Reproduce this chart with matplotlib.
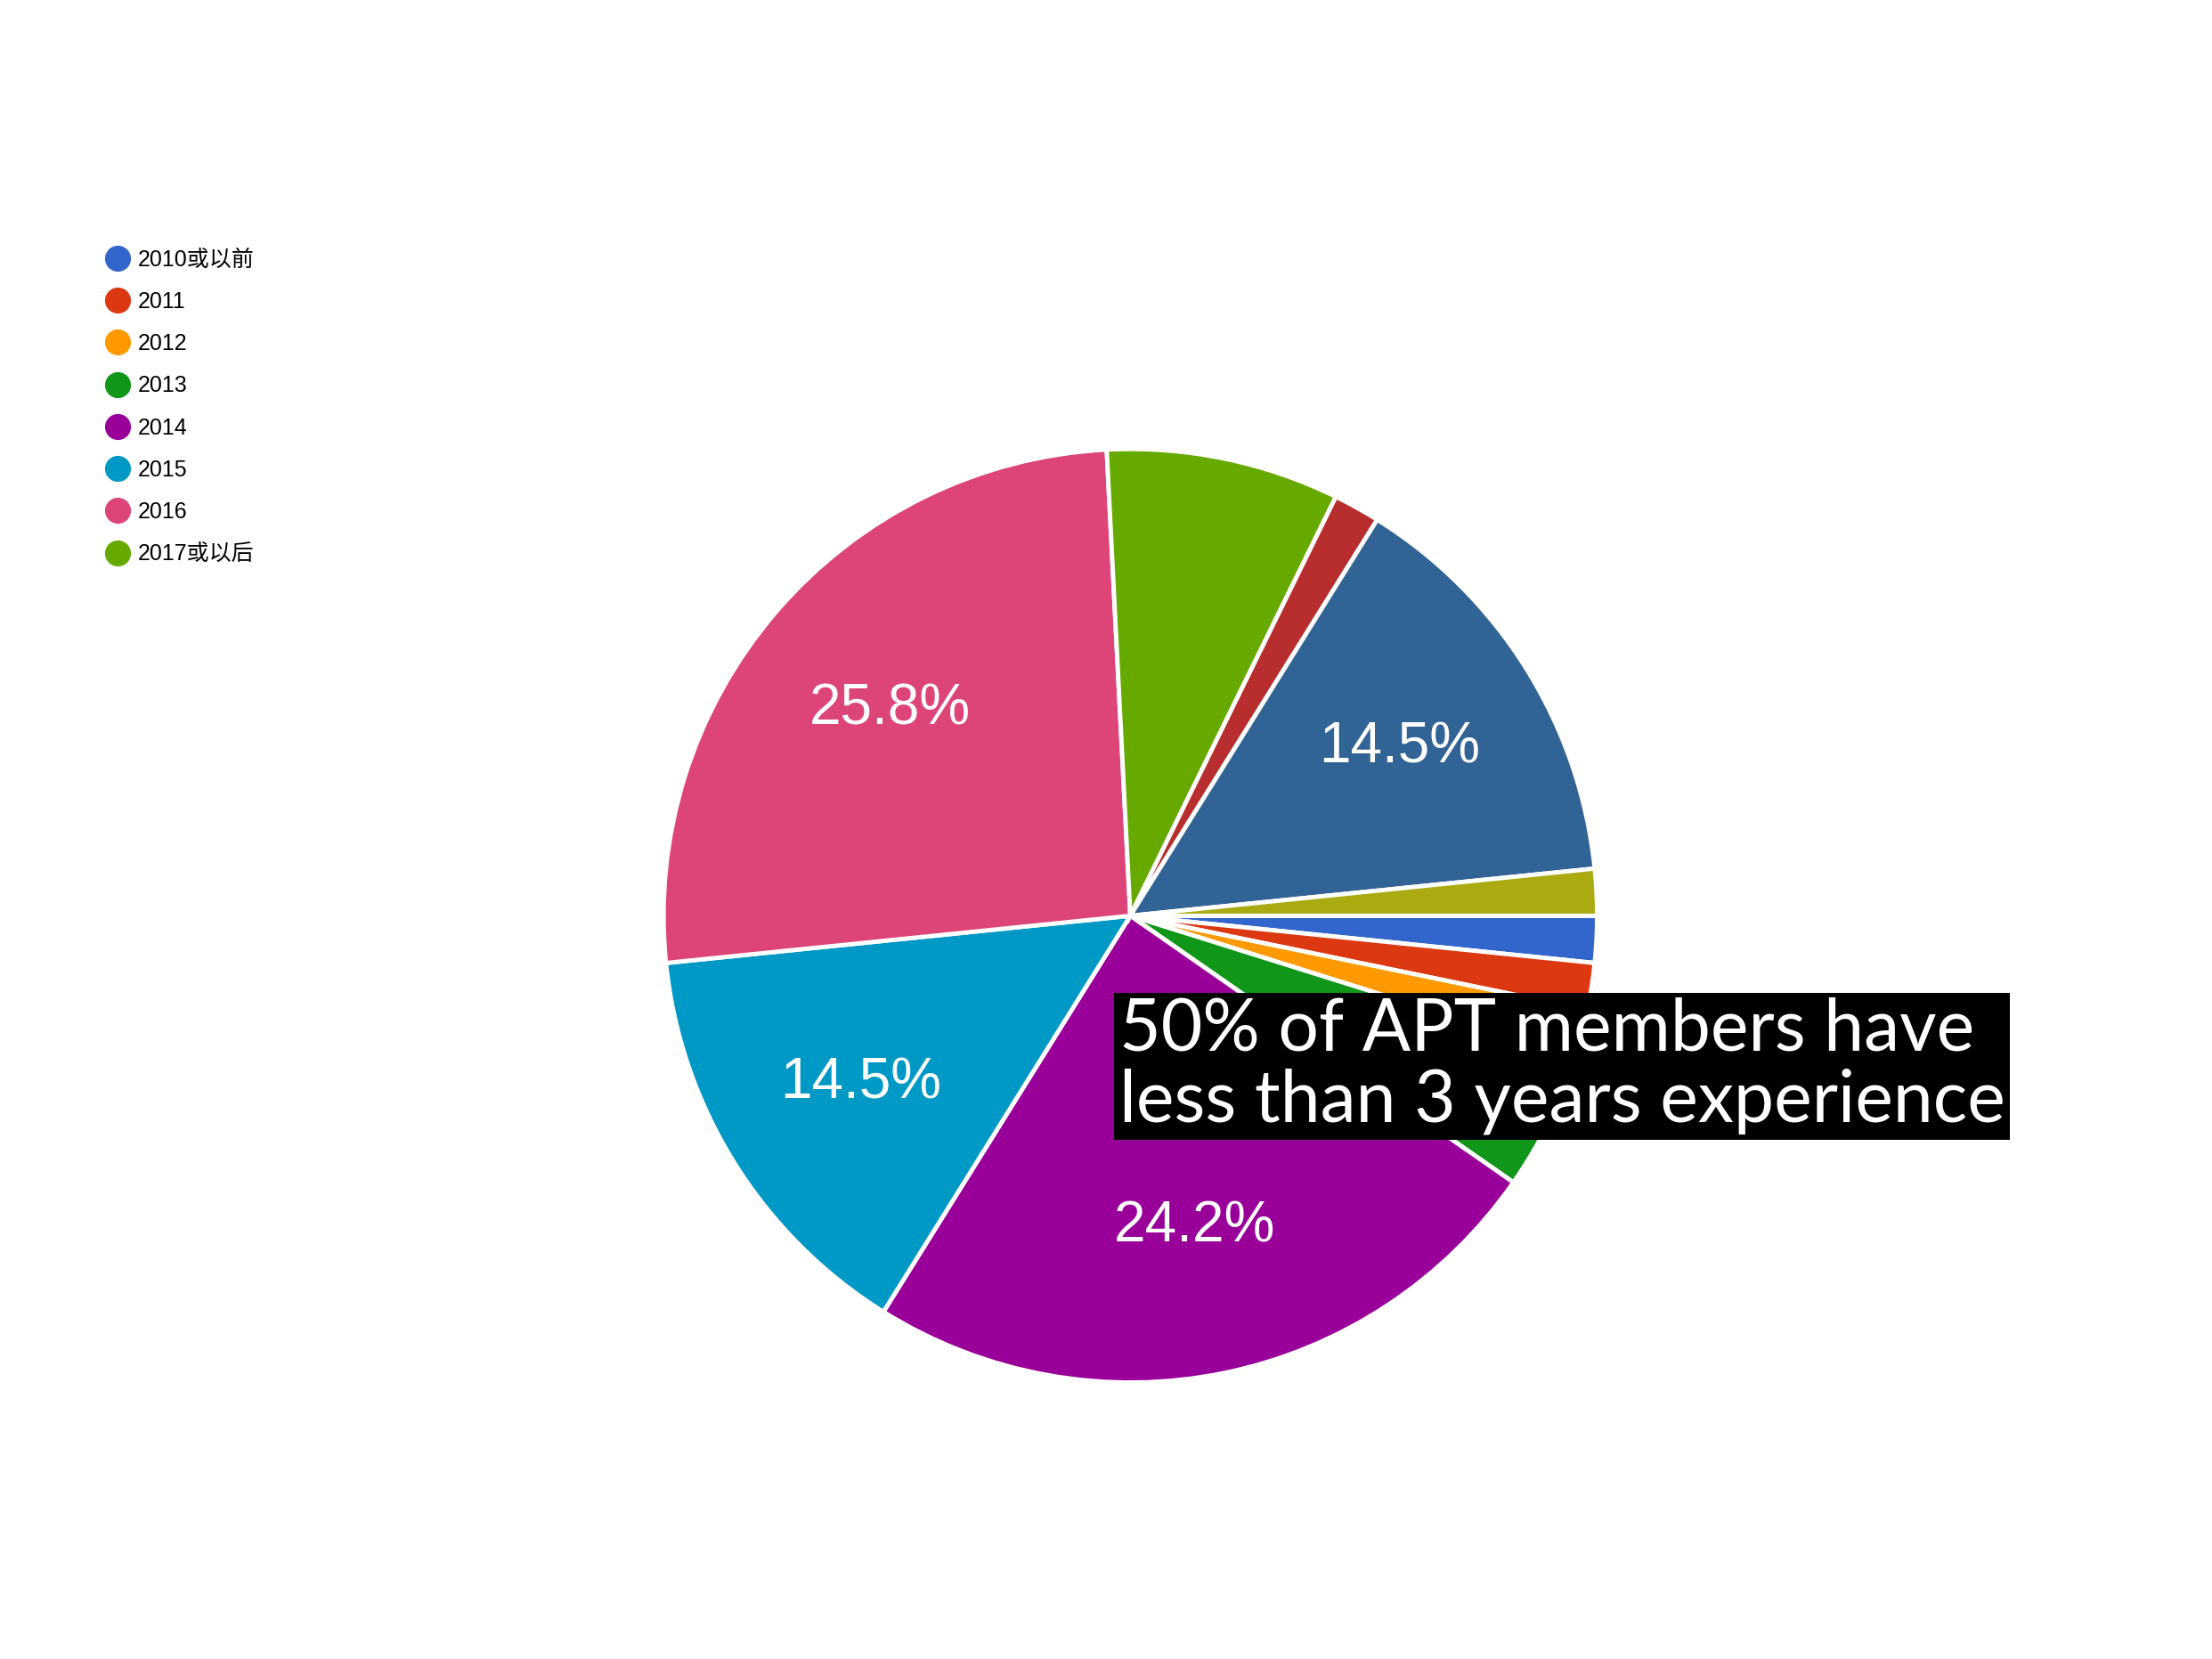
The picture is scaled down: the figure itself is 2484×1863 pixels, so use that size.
import matplotlib
matplotlib.use("Agg")
import matplotlib.pyplot as plt
from matplotlib.lines import Line2D

plt.rcParams['font.family'] = ['Liberation Sans', 'Noto Sans CJK SC', 'DejaVu Sans']

legend_labels = ["2010或以前", "2011", "2012", "2013", "2014", "2015", "2016", "2017或以后"]
legend_colors = ["#3366cc", "#dc3912", "#ff9900", "#109618", "#990099", "#0099c6", "#dd4477", "#66aa00"]
values = [1, 1, 1, 3, 15, 9, 16, 5, 1, 9, 1]
colors = legend_colors + ["#b82e2e", "#316395", "#aaaa11"]
label_text = "50% of APT members have\nless than 3 years experience"

fig = plt.figure(figsize=(24.84, 18.63), dpi=100)
cx, cy, rw = 0.511, 0.448, 0.211
rh = rw * 24.84 / 18.63
ax = fig.add_axes([cx - rw, cy - rh, 2 * rw, 2 * rh])

def fmt(p):
    return f"{p:.1f}%" if p >= 10 else ""

wedges, texts, autotexts = ax.pie(values, colors=colors, startangle=0, counterclock=False,
                                  autopct=fmt, pctdistance=0.68,
                                  wedgeprops=dict(edgecolor="white", linewidth=3.5),
                                  textprops=dict(color="white", fontsize=46))
ax.set_xlim(-1, 1)
ax.set_ylim(-1, 1)
ax.set_aspect("equal")

handles = [Line2D([], [], marker="o", linestyle="", markersize=20, color=c) for c in legend_colors]
fig.legend(handles, legend_labels, loc="upper left", bbox_to_anchor=(0.038, 0.862),
           frameon=False, fontsize=18, handletextpad=0.3, labelspacing=0.93,
           handlelength=1.2)

fig.text(0.506, 0.316, label_text, fontsize=58, color="white", family=['Lato', 'DejaVu Sans'],
         ha="left", va="bottom", linespacing=1.1,
         bbox=dict(facecolor="black", edgecolor="none", pad=4))

fig.savefig("out.png", dpi=100, facecolor="white")
